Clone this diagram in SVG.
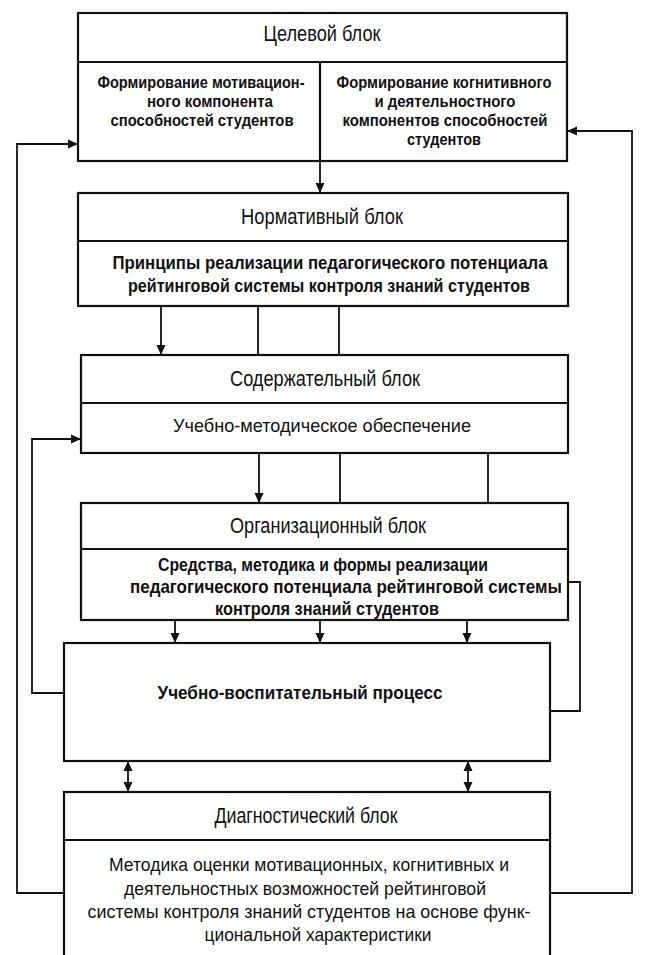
<svg xmlns="http://www.w3.org/2000/svg" width="668" height="955" viewBox="0 0 668 955">
<defs>
<style>
.box{fill:none;stroke:#111;stroke-width:2.2}
.ln{fill:none;stroke:#111;stroke-width:1.8}
text{font-family:"Liberation Sans Narrow","Arial Narrow","Liberation Sans",Arial,sans-serif;fill:#111;text-anchor:middle}
.h{font-size:21.5px}
.b{font-size:18.5px;font-weight:bold}
.s{font-size:16.5px;font-weight:bold}
.r{font-size:19px}
</style>
<marker id="ah" markerUnits="userSpaceOnUse" markerWidth="10" markerHeight="10" refX="10" refY="4.5" orient="auto-start-reverse" viewBox="0 0 10 9">
<path d="M0,0 L10,4.5 L0,9 z" fill="#111"/>
</marker>
</defs>
<rect width="668" height="955" fill="#fff"/>

<g id="target">
<rect class="box" x="78" y="13" width="489" height="148"/>
<line class="box" x1="78" y1="62" x2="567" y2="62"/>
<line class="box" x1="320" y1="62" x2="320" y2="161"/>
<text class="h" x="322" y="41" textLength="117" lengthAdjust="spacingAndGlyphs">Целевой блок</text>
<text class="s" x="201" y="88" textLength="207" lengthAdjust="spacingAndGlyphs">Формирование мотивацион-</text>
<text class="s" x="210" y="107" textLength="126" lengthAdjust="spacingAndGlyphs">ного компонента</text>
<text class="s" x="202" y="126" textLength="183" lengthAdjust="spacingAndGlyphs">способностей студентов</text>
<text class="s" x="444" y="88" textLength="215" lengthAdjust="spacingAndGlyphs">Формирование когнитивного</text>
<text class="s" x="445" y="107" textLength="141" lengthAdjust="spacingAndGlyphs">и деятельностного</text>
<text class="s" x="445" y="126" textLength="205" lengthAdjust="spacingAndGlyphs">компонентов способностей</text>
<text class="s" x="444" y="145" textLength="74" lengthAdjust="spacingAndGlyphs">студентов</text>
</g>

<g id="normative">
<rect class="box" x="78" y="193" width="490" height="113"/>
<line class="box" x1="78" y1="241" x2="568" y2="241"/>
<text class="h" x="322" y="224" textLength="162" lengthAdjust="spacingAndGlyphs">Нормативный блок</text>
<text class="b" x="330" y="269" textLength="435" lengthAdjust="spacingAndGlyphs">Принципы реализации педагогического потенциала</text>
<text class="b" x="329" y="292" textLength="402" lengthAdjust="spacingAndGlyphs">рейтинговой системы контроля знаний студентов</text>
</g>

<g id="content">
<rect class="box" x="81" y="355" width="487" height="98"/>
<line class="box" x1="81" y1="403" x2="568" y2="403"/>
<text class="h" x="325" y="386" textLength="190" lengthAdjust="spacingAndGlyphs">Содержательный блок</text>
<text class="r" x="322" y="432" font-size="20" textLength="298" lengthAdjust="spacingAndGlyphs">Учебно-методическое обеспечение</text>
</g>

<g id="organizational">
<rect class="box" x="81" y="503" width="487" height="117"/>
<line class="box" x1="81" y1="549" x2="568" y2="549"/>
<text class="h" x="328" y="533" textLength="196" lengthAdjust="spacingAndGlyphs">Организационный блок</text>
<text class="b" x="323" y="571" textLength="330" lengthAdjust="spacingAndGlyphs">Средства, методика и формы реализации</text>
<text class="b" x="346" y="593" textLength="432" lengthAdjust="spacingAndGlyphs">педагогического потенциала рейтинговой системы</text>
<text class="b" x="327" y="615" textLength="224" lengthAdjust="spacingAndGlyphs">контроля знаний студентов</text>
</g>

<g id="process">
<rect class="box" x="64" y="643" width="486" height="118"/>
<text class="b" x="300" y="699" font-size="20" textLength="285" lengthAdjust="spacingAndGlyphs">Учебно-воспитательный процесс</text>
</g>

<g id="diagnostic">
<rect class="box" x="64" y="792" width="486" height="170"/>
<line class="box" x1="64" y1="840" x2="550" y2="840"/>
<text class="h" x="306" y="823" textLength="183" lengthAdjust="spacingAndGlyphs">Диагностический блок</text>
<text class="r" x="309" y="871" textLength="400" lengthAdjust="spacingAndGlyphs">Методика оценки мотивационных, когнитивных и</text>
<text class="r" x="305" y="895" textLength="362" lengthAdjust="spacingAndGlyphs">деятельностных возможностей рейтинговой</text>
<text class="r" x="309" y="918" textLength="443" lengthAdjust="spacingAndGlyphs">системы контроля знаний студентов на основе функ-</text>
<text class="r" x="318" y="941" textLength="227" lengthAdjust="spacingAndGlyphs">циональной характеристики</text>
</g>

<g id="connectors">
<path class="ln" d="M320,161 V193" marker-end="url(#ah)"/>
<path class="ln" d="M161,306 V355" marker-end="url(#ah)"/>
<path class="ln" d="M258,306 V355"/>
<path class="ln" d="M339,306 V355"/>
<path class="ln" d="M259,453 V503" marker-end="url(#ah)"/>
<path class="ln" d="M340,453 V503"/>
<path class="ln" d="M488,453 V503"/>
<path class="ln" d="M175,620 V643" marker-end="url(#ah)"/>
<path class="ln" d="M320,620 V643" marker-end="url(#ah)"/>
<path class="ln" d="M467,620 V643" marker-end="url(#ah)"/>
<path class="ln" d="M128,761 V792" marker-start="url(#ah)" marker-end="url(#ah)"/>
<path class="ln" d="M468,761 V792" marker-start="url(#ah)" marker-end="url(#ah)"/>
<path class="ln" d="M64,893 H17 V144 H78" marker-end="url(#ah)"/>
<path class="ln" d="M550,893 H632 V131 H567" marker-end="url(#ah)"/>
<path class="ln" d="M64,693 H32 V439 H81" marker-end="url(#ah)"/>
<path class="ln" d="M568,582 H580 V711 H550"/>
</g>
</svg>
